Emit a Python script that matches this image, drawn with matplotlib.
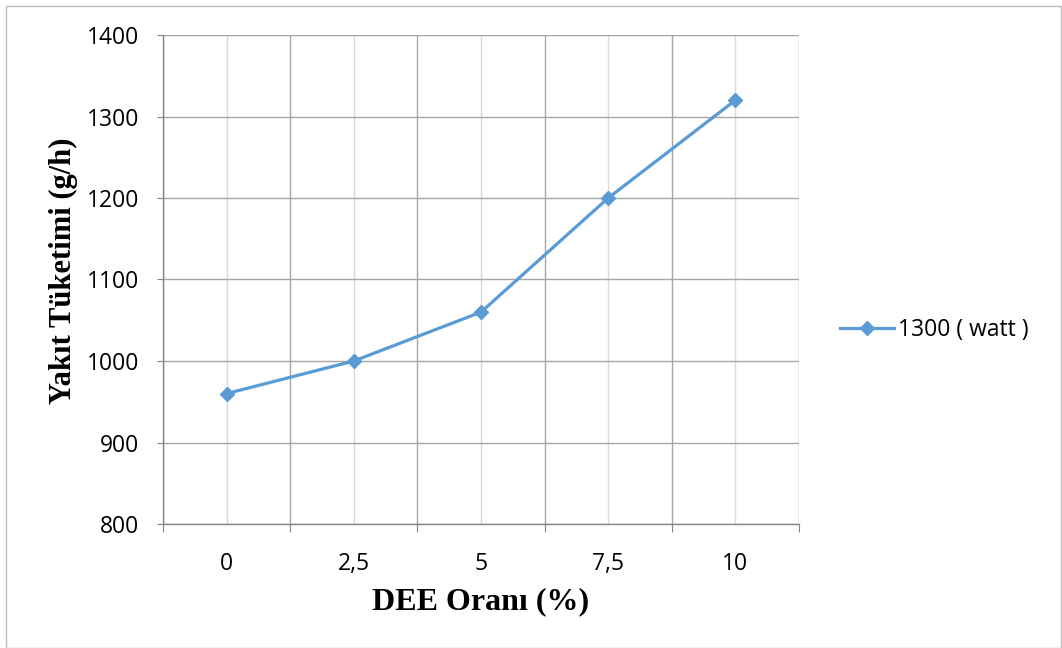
import matplotlib.pyplot as plt
import matplotlib.patches as patches
import numpy as np

categories = ["0", "2,5", "5", "7,5", "10"]
fuel_use = [960, 1000, 1060, 1200, 1320]
series_name = "1300 ( watt )"
y_ticks = [800, 900, 1000, 1100, 1200, 1300, 1400]

line_color = "#5B9BD5"
grid_major = "#A6A6A6"
grid_minor = "#D9D9D9"
axis_color = "#868686"

fig = plt.figure(figsize=(10.62, 6.48), dpi=100)
W, H = 1062, 648
ax = fig.add_axes([163 / W, 1 - 524 / H, (799 - 163) / W, (524 - 35) / H])

x = np.arange(len(categories))
line, = ax.plot(x, fuel_use, color=line_color, lw=2.3, marker="D", ms=7,
                mfc=line_color, mec=line_color, label=series_name, zorder=3)

ax.set_xlim(-0.5, len(categories) - 0.5)
ax.set_ylim(y_ticks[0], y_ticks[-1])
ax.set_yticks(y_ticks)

# category boundaries carry the ticks, centres carry the labels
ax.set_xticks(np.arange(-0.5, len(categories)), minor=False)
ax.set_xticklabels([])
ax.set_xticks(x, minor=True)
ax.set_xticklabels(categories, minor=True)

ax.grid(True, which="major", axis="both", color=grid_major, lw=1.0, zorder=0)
ax.grid(True, which="minor", axis="x", color=grid_minor, lw=1.0, zorder=0)

for s in ["top", "right"]:
    ax.spines[s].set_visible(False)
for s in ["left", "bottom"]:
    ax.spines[s].set_color(axis_color)
    ax.spines[s].set_linewidth(1.0)

tick_font = "Open Sans"
ax.tick_params(axis="y", which="major", length=4.3, color=axis_color, pad=13,
               labelsize=16.5, labelfontfamily=tick_font)
ax.tick_params(axis="x", which="major", length=6, color=axis_color, direction="out")
ax.tick_params(axis="x", which="minor", length=0, pad=20,
               labelsize=16.5, labelfontfamily=tick_font)

ax.set_xlabel("DEE Oranı (%)", fontfamily="Liberation Serif", fontweight="bold",
              fontsize=23, labelpad=8)
ax.set_ylabel("Yakıt Tüketimi (g/h)", fontfamily="Liberation Serif", fontweight="bold",
              fontsize=22, labelpad=6)
ax.yaxis.label.set_y(0.517)

leg = fig.legend(handles=[line], loc="center left", bbox_to_anchor=(819 / W, 1 - 330 / H),
                 frameon=False, handlelength=2.36, handletextpad=0.2,
                 prop={"family": tick_font, "size": 16.5})

# chart area border
border = patches.Rectangle((6 / W, 0), 1 - 6 / W - 1 / W, 1 - 5 / H - 1 / H,
                           transform=fig.transFigure, fill=False,
                           edgecolor="#BFBFBF", lw=1.0)
fig.patches.append(border)

fig.savefig("out.png", dpi=100)
